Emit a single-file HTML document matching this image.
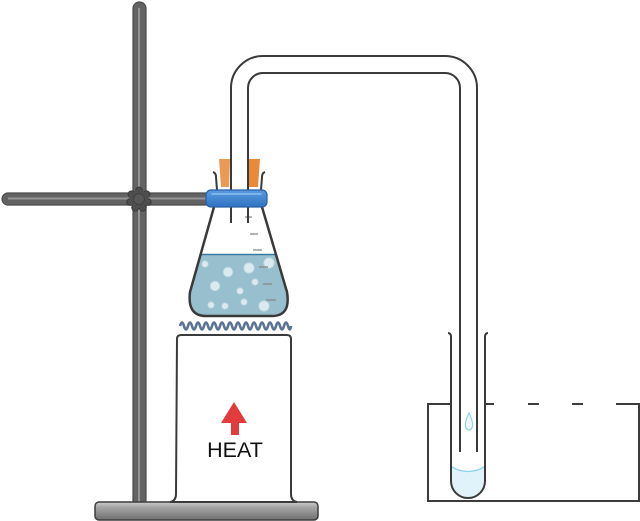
<!DOCTYPE html>
<html><head><meta charset="utf-8"><style>
html,body{margin:0;padding:0;background:#fff;}
svg{display:block;}
</style></head><body>
<svg width="640" height="521" viewBox="0 0 640 521" xmlns="http://www.w3.org/2000/svg">
<defs>
<linearGradient id="baseG" x1="0" y1="0" x2="0" y2="1">
<stop offset="0" stop-color="#cfcfcf"/><stop offset="0.25" stop-color="#a9a9a9"/><stop offset="1" stop-color="#6f6f6f"/>
</linearGradient>
<linearGradient id="clampG" x1="0" y1="0" x2="0" y2="1">
<stop offset="0" stop-color="#5a9be0"/><stop offset="1" stop-color="#2f72c2"/>
</linearGradient>
<clipPath id="flaskClip">
<path d="M214,207 L190,292 Q187,316 206,316 L272,316 Q291,316 287,292 L262,207 Z"/>
</clipPath>
</defs>

<!-- stand vertical rod -->
<rect x="133" y="2" width="13" height="505" rx="6.5" fill="#636363" stroke="#4b4b4b" stroke-width="1.2"/>
<line x1="139" y1="8" x2="139" y2="502" stroke="#959595" stroke-width="2"/>
<!-- horizontal rod -->
<rect x="2" y="193" width="210" height="12" rx="6" fill="#636363" stroke="#4b4b4b" stroke-width="1.2"/>
<line x1="8" y1="198.5" x2="208" y2="198.5" stroke="#959595" stroke-width="2"/>
<!-- knob -->
<g fill="#4e4e4e" stroke="#3a3a3a" stroke-width="1">
<circle cx="139" cy="190.5" r="3.4"/><circle cx="146.5" cy="194.3" r="3.4"/><circle cx="147.8" cy="202" r="3.4"/>
<circle cx="142.8" cy="207.8" r="3.4"/><circle cx="135.2" cy="207.8" r="3.4"/><circle cx="130.2" cy="202" r="3.4"/><circle cx="131.5" cy="194.3" r="3.4"/>
<circle cx="139" cy="199" r="9" stroke="none"/>
<circle cx="139" cy="199" r="5.5" fill="#575757" stroke="#3f3f3f"/>
</g>

<!-- base -->
<rect x="95" y="502" width="223" height="18" rx="4" fill="url(#baseG)" stroke="#3c3c3c" stroke-width="1.5"/>

<!-- heater -->
<path d="M177,339 Q177,335 181,335 L287,335 Q291,335 291,339 L291,494 Q291,501 297,502 L170,502 Q176,501 176,494 Z" fill="#fff" stroke="#3a3a3a" stroke-width="2"/>
<polygon points="234,402 247,423 239,423 239,435 231,435 231,423 221,423" fill="#e23b3b"/>
<text x="235" y="457" text-anchor="middle" font-family="Liberation Sans, sans-serif" font-size="21.5" fill="#111">HEAT</text>

<!-- wave -->
<path d="M180,326 q2,-7 4,0 t4,0 t4,0 t4,0 t4,0 t4,0 t4,0 t4,0 t4,0 t4,0 t4,0 t4,0 t4,0 t4,0 t4,0 t4,0 t4,0 t4,0 t4,0 t4,0 t4,0 t4,0 t4,0 t4,0 t4,0 t4,0 t4,0 t3,0" fill="none" stroke="#5b7590" stroke-width="2.6"/>

<!-- flask liquid -->
<g clip-path="url(#flaskClip)">
<rect x="180" y="254" width="120" height="70" fill="#97bfcd"/>
<line x1="180" y1="254.5" x2="300" y2="254.5" stroke="#3b7aa0" stroke-width="1.6"/>
</g>
<g fill="#dbeaf0" stroke="#bdd6e0" stroke-width="0.8">
<circle cx="205" cy="264" r="3.2"/><circle cx="228" cy="272" r="4.8"/><circle cx="249" cy="268" r="5.2"/>
<circle cx="269" cy="263" r="5.2"/><circle cx="215" cy="286" r="4.8"/><circle cx="255" cy="282" r="3.2"/>
<circle cx="240" cy="291" r="3.2"/><circle cx="244" cy="302" r="3.2"/><circle cx="211" cy="305" r="3.2"/>
<circle cx="225" cy="306" r="3.2"/><circle cx="264" cy="306" r="5.2"/>
</g>
<!-- graduation marks -->
<g stroke="#8a8a8a" stroke-width="1.3">
<line x1="245" y1="217" x2="252" y2="217"/><line x1="250" y1="234" x2="258" y2="234"/>
<line x1="253" y1="250" x2="262" y2="250"/><line x1="259" y1="267" x2="268" y2="267"/>
<line x1="263" y1="284" x2="272" y2="284"/><line x1="266" y1="300" x2="276" y2="300"/>
</g>
<!-- flask outline -->
<path d="M214,207 L190,292 Q187,316 206,316 L272,316 Q291,316 287,292 L262,207" fill="none" stroke="#3a3a3a" stroke-width="2.5" stroke-linejoin="round"/>
<path d="M217,190 L216,177 Q216,173 213,172" fill="none" stroke="#3a3a3a" stroke-width="2"/>
<path d="M261,190 L262,177 Q262,173 265,172" fill="none" stroke="#3a3a3a" stroke-width="2"/>

<!-- stoppers -->
<polygon points="219,159 230,159 229,187 221,187" fill="#eb9a55"/>
<polygon points="248,159 260,159 258,187 249,187" fill="#e88a38"/>

<!-- delivery tube -->
<path d="M231,223 L231,88 A32,32 0 0 1 263,56 L445,56 A32,32 0 0 1 477,88 L477,452" fill="none" stroke="#3a3a3a" stroke-width="2"/>
<path d="M248,223 L248,88 A15,15 0 0 1 263,73 L445,73 A15,15 0 0 1 460,88 L460,452" fill="none" stroke="#3a3a3a" stroke-width="2"/>

<!-- clamp -->
<rect x="206" y="190" width="61" height="17" rx="5" fill="url(#clampG)" stroke="#2a5fa3" stroke-width="1.2"/>
<line x1="212" y1="194" x2="261" y2="194" stroke="#8cc0ef" stroke-width="1.5" stroke-linecap="round"/>

<!-- trough -->
<path d="M451,404 L428,404 L428,501 L639,501 L639,404 L616,404" fill="none" stroke="#3c3c3c" stroke-width="2"/>
<g stroke="#3c3c3c" stroke-width="2">
<line x1="485" y1="404" x2="494" y2="404"/><line x1="528" y1="404" x2="539" y2="404"/><line x1="572" y1="404" x2="583" y2="404"/>
</g>

<!-- test tube -->
<path d="M452,467 Q468,476 484,467 L484,481 A16,16 0 0 1 452,481 Z" fill="#e0f2fa"/>
<path d="M452,467 Q468,476 484,467" fill="none" stroke="#8fd3ee" stroke-width="1.3"/>
<path d="M448,333 Q451,333 451,337 L451,481 A17,17 0 0 0 485,481 L485,337 Q485,333 488,333" fill="none" stroke="#3a3a3a" stroke-width="2"/>
<path d="M469,413 Q464,423 466,428 Q469,432 472,428 Q474,423 469,413 Z" fill="#eef8fc" stroke="#8fd3ee" stroke-width="1.2"/>
</svg>
</body></html>
